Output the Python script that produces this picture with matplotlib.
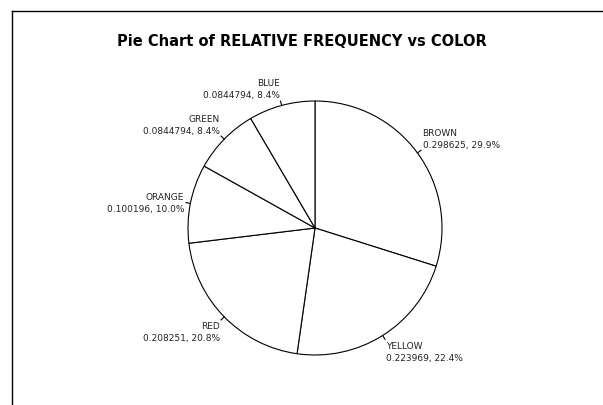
import numpy as np
import matplotlib
matplotlib.use('Agg')
import matplotlib.pyplot as plt
from matplotlib.lines import Line2D

colors = ['BROWN', 'YELLOW', 'RED', 'ORANGE', 'GREEN', 'BLUE']
rel_freq = [0.298625, 0.223969, 0.208251, 0.100196, 0.0844794, 0.0844794]
pct_text = ['29.9%', '22.4%', '20.8%', '10.0%', '8.4%', '8.4%']

plt.rcParams['font.family'] = ['DejaVu Sans']

W, H = 603, 406
fig = plt.figure(figsize=(W / 100, H / 100), dpi=100)

# frame lines (top and left visible)
fig.add_artist(Line2D([12 / W, 1], [1 - 12 / H, 1 - 12 / H], color='black', lw=1.0,
                      transform=fig.transFigure))
fig.add_artist(Line2D([12 / W, 12 / W], [0, 1 - 12 / H], color='black', lw=1.0,
                      transform=fig.transFigure))

fig.text(0.5, 1 - 42 / H, 'Pie Chart of RELATIVE FREQUENCY vs COLOR',
         ha='center', va='center', fontsize=10.5, fontweight='bold')

cx, cy, r = 315, 229, 127
ax = fig.add_axes([(cx - r) / W, (H - cy - r) / H, 2 * r / W, 2 * r / H])

wedges, _ = ax.pie(rel_freq, startangle=90, counterclock=False, radius=1,
                   wedgeprops=dict(facecolor='white', edgecolor='black', linewidth=0.8))
ax.set_xlim(-1, 1)
ax.set_ylim(-1, 1)
ax.set_aspect('equal')
ax.axis('off')

for w, name, v, p in zip(wedges, colors, rel_freq, pct_text):
    ang = np.deg2rad((w.theta1 + w.theta2) / 2)
    c, s = np.cos(ang), np.sin(ang)
    ax.plot([c, 1.035 * c], [s, 1.035 * s], color='black', lw=0.8, clip_on=False)
    ha = 'left' if c > 0 else 'right'
    if abs(s) < 0.3:
        va = 'center'
    elif s > 0:
        va = 'bottom'
    else:
        va = 'top'
    ax.text(1.05 * c, 1.05 * s, f'{name}\n{v}, {p}',
            ha=ha, va=va, multialignment=ha, fontsize=6.5, color='#222222',
            linespacing=1.45, clip_on=False)

fig.savefig('out.png', dpi=100)
